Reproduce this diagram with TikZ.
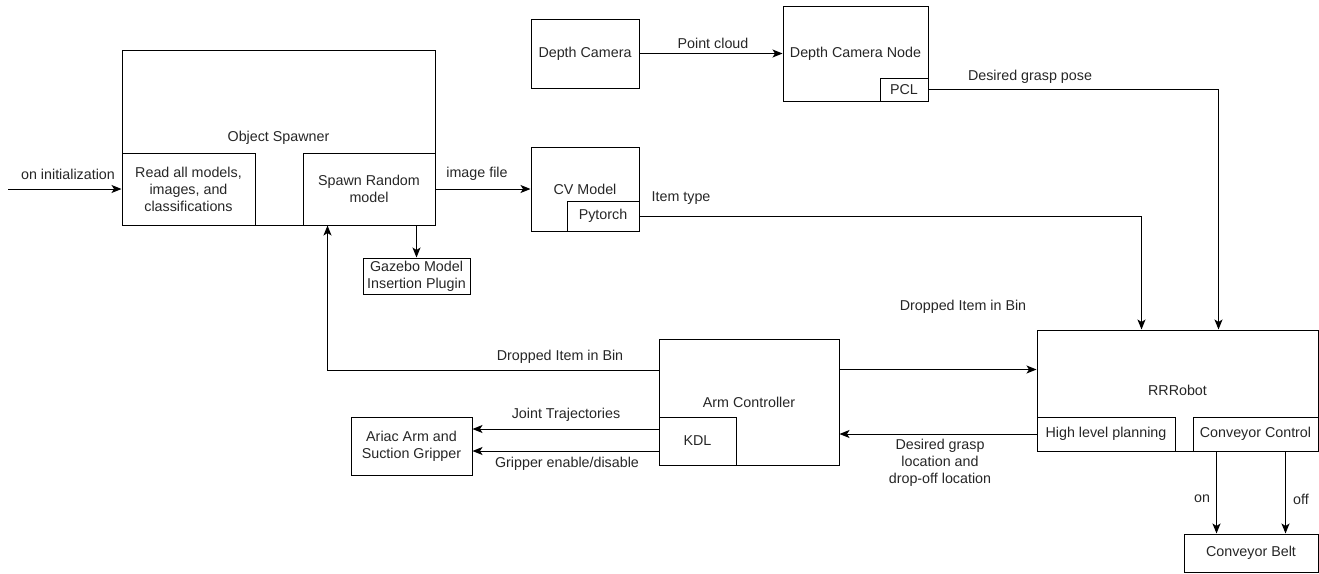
\documentclass[tikz,border=0pt]{standalone}
\usepackage{fontspec}
\setmainfont{Liberation Sans}
\usetikzlibrary{arrows.meta,calc}
\begin{document}
\begin{tikzpicture}[x=1pt,y=-1pt,
  font=\fontsize{14.3}{17}\selectfont,
  box/.style={draw, line width=1pt, inner sep=1pt, align=center, text=black!85},
  arr/.style={-{Stealth[length=10pt,width=8pt,inset=2.5pt]}, line width=1pt},
  lbl/.style={inner sep=0pt, align=center, text=black!85}]
\useasboundingbox (0,0) rectangle (1319,573);
% boxes
\node[box, minimum width=313pt, minimum height=175pt] (os) at (278.5,137.5) {Object Spawner};
\node[box, minimum width=133pt, minimum height=72pt] (read) at (188.5,189) {Read all models,\\images, and\\classifications};
\node[box, minimum width=132pt, minimum height=72pt] (spawn) at (369,189) {Spawn Random\\model};
\node[box, minimum width=107pt, minimum height=36pt] (gz) at (416.5,276) {Gazebo Model\\Insertion Plugin};
\node[box, minimum width=108pt, minimum height=69pt] (dc) at (585,53.5) {Depth Camera};
\node[box, minimum width=145pt, minimum height=95pt] (dcn) at (855.5,53.5) {Depth Camera Node};
\node[box, minimum width=48pt, minimum height=23pt] (pcl) at (904,89.5) {PCL};
\node[box, minimum width=108pt, minimum height=84pt] (cv) at (585,189) {CV Model};
\node[box, minimum width=72pt, minimum height=30pt] (py) at (603,216) {Pytorch};
\node[box, minimum width=180pt, minimum height=126pt] (arm) at (749,402) {Arm Controller};
\node[box, minimum width=77pt, minimum height=48pt] (kdl) at (697.5,441) {KDL};
\node[box, minimum width=121pt, minimum height=58pt] (ariac) at (411.5,446) {Ariac Arm and\\Suction Gripper};
\node[box, minimum width=281pt, minimum height=121pt] (rr) at (1177.5,390.5) {RRRobot};
\node[box, minimum width=138pt, minimum height=34pt] (hlp) at (1106,434) {High level planning};
\node[box, minimum width=125pt, minimum height=34pt] (cc) at (1255.5,434) {Conveyor Control};
\node[box, minimum width=134pt, minimum height=38pt] (belt) at (1251,553) {Conveyor Belt};
% connectors
\coordinate (initstart) at (8,189);
\draw[arr] (initstart) -- (read.west);
\draw[arr] (spawn.east) -- (cv.west);
\draw[arr] (gz.north |- spawn.south) -- (gz.north);
\draw[arr] (dc.east) -- (dc.east -| dcn.west);
\draw[arr] (pcl.east) -| ([xshift=182pt]rr.north west);
\draw[arr] (py.east) -| ([xshift=105pt]rr.north west);
\draw[arr] ([yshift=-31pt]arm.north east) -- ([yshift=-31pt]arm.north east -| rr.west);
\draw[arr] ([yshift=-32pt]arm.north west) -| ([xshift=25pt]spawn.south west);
\draw[arr] (hlp.west) -- (hlp.west -| arm.east);
\draw[arr] ([yshift=-10pt]kdl.west) -- ([yshift=-10pt]kdl.west -| ariac.east);
\draw[arr] ([yshift=12pt]kdl.west) -- ([yshift=12pt]kdl.west -| ariac.east);
\draw[arr] ([xshift=24pt]cc.south west) -- ([xshift=24pt]cc.south west |- belt.north);
\draw[arr] ([xshift=93pt]cc.south west) -- ([xshift=93pt]cc.south west |- belt.north);
% labels
\node[lbl] (l1) at (68,174) {on initialization};
\node[lbl] (l2) at (477,174) {image file};
\node[lbl] (l3) at (713,43) {Point cloud};
\node[lbl] (l4) at (1030,77) {Desired grasp pose};
\node[lbl] (l5) at (681,198) {Item type};
\node[lbl] (l6) at (963,307) {Dropped Item in Bin};
\node[lbl] (l7) at (560,357) {Dropped Item in Bin};
\node[lbl] (l8) at (566,415) {Joint Trajectories};
\node[lbl] (l9) at (567,464) {Gripper enable/disable};
\node[lbl] (l10) at (940,463) {Desired grasp\\location and\\drop-off location};
\node[lbl] (l11) at (1202,499) {on};
\node[lbl] (l12) at (1301,499) {off};
\end{tikzpicture}
\end{document}
